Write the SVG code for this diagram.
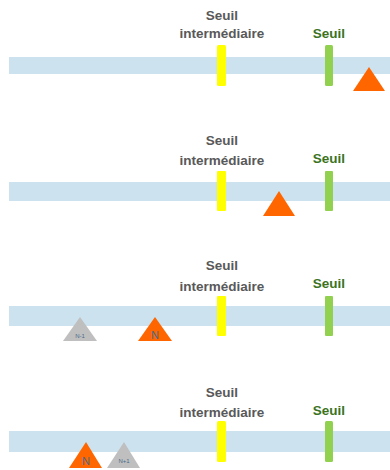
<svg xmlns="http://www.w3.org/2000/svg" width="390" height="470" viewBox="0 0 390 470">
<style>
.bar{fill:#CCE3EF}
.ym{fill:#FFFF00}
.gm{fill:#92D050}
.t{font-family:"Liberation Sans",Arial,sans-serif;font-size:13.5px;font-weight:bold;fill:#595959;text-anchor:middle}
.tg{font-family:"Liberation Sans",Arial,sans-serif;font-size:13.5px;font-weight:bold;fill:#3B7321;text-anchor:middle}
.or{fill:#FF6600}
.gr{fill:#BFBFBF}
.n{font-family:"Liberation Sans",Arial,sans-serif;font-size:11px;fill:#4A6A8A;text-anchor:middle}
.ns{font-family:"Liberation Sans",Arial,sans-serif;font-size:6px;fill:#4A6A8A;text-anchor:middle}
</style>
<rect width="390" height="470" fill="#FFFFFF"/>
<g id="row1">
<rect class="bar" x="9" y="57" width="381" height="17"/>
<rect class="ym" x="217" y="45" width="9" height="41" rx="1.5"/>
<rect class="gm" x="325" y="45" width="8" height="41" rx="1.5"/>
<text class="t" x="222" y="20">Seuil</text>
<text class="t" x="222" y="38">intermédiaire</text>
<text class="tg" x="329" y="38">Seuil</text>
<polygon class="or" points="369,67 385,91 353,91"/>
</g>
<g id="row2">
<rect class="bar" x="9" y="182" width="381" height="19"/>
<rect class="ym" x="217" y="171" width="9" height="40" rx="1"/>
<rect class="gm" x="325" y="171" width="8" height="40" rx="1"/>
<text class="t" x="222" y="145">Seuil</text>
<text class="t" x="222" y="165">intermédiaire</text>
<text class="tg" x="329" y="163">Seuil</text>
<polygon class="or" points="279,191 295,216 263,216"/>
</g>
<g id="row3">
<rect class="bar" x="9" y="306" width="381" height="20"/>
<rect class="ym" x="217" y="296" width="9" height="40" rx="1"/>
<rect class="gm" x="325" y="296" width="8" height="40" rx="1"/>
<text class="t" x="222" y="270">Seuil</text>
<text class="t" x="222" y="291">intermédiaire</text>
<text class="tg" x="329" y="288">Seuil</text>
<polygon class="gr" points="80,317 97,341 63,341"/>
<text class="ns" x="80" y="338">N-1</text>
<polygon class="or" points="155,317 172,341 138,341"/>
<text class="n" x="155" y="339">N</text>
</g>
<g id="row4">
<rect class="bar" x="9" y="431" width="381" height="21"/>
<rect class="ym" x="217" y="421" width="9" height="41" rx="1.5"/>
<rect class="gm" x="325" y="421" width="8" height="41" rx="1.5"/>
<text class="t" x="222" y="397">Seuil</text>
<text class="t" x="222" y="417">intermédiaire</text>
<text class="tg" x="329" y="415">Seuil</text>
<polygon class="or" points="86,442 102,468 69,468"/>
<text class="n" x="86" y="465">N</text>
<polygon class="gr" points="124,442 140,468 107,468"/>
<text class="ns" x="124" y="463">N+1</text>
</g>
</svg>
